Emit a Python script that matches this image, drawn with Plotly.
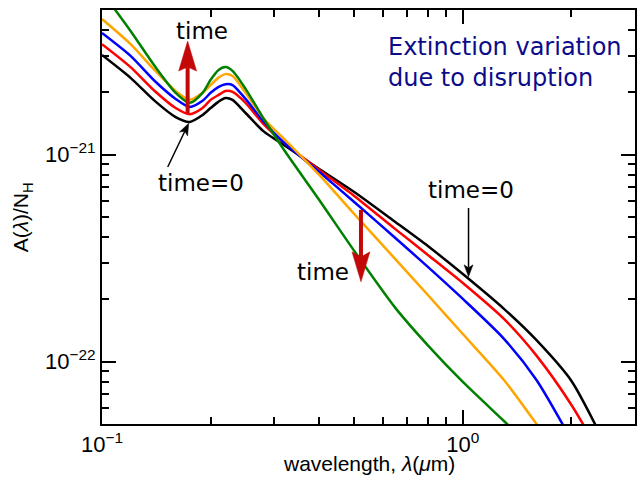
import numpy as np
import plotly.graph_objects as go

# ---------------- data ----------------
wavelength = [0.1, 0.12, 0.14, 0.16, 0.175, 0.19, 0.2, 0.21, 0.22, 0.23, 0.25,
              0.28, 0.32, 0.4, 0.5, 0.65, 0.8, 1.0, 1.3, 1.6, 2.0, 2.5]
# A(lambda)/N_H in units of 1e-22
ext_black = [30.3, 23.5, 18.2, 15.2, 14.4, 15.55, 16.8, 18.0, 18.8, 18.4, 15.9,
             13.0, 11.1, 8.53, 6.60, 4.73, 3.62, 2.65, 1.80, 1.27, 0.807, 0.387]
ext_red = [34.2, 26.5, 20.3, 16.8, 15.7, 16.8, 18.4, 19.4, 20.3, 20.1, 17.8,
           14.1, 11.4, 8.43, 6.32, 4.37, 3.28, 2.40, 1.61, 1.07, 0.618, 0.317]
ext_blue = [38.7, 30.0, 22.7, 18.6, 17.0, 18.2, 19.9, 21.2, 21.9, 21.7, 18.6,
            14.5, 11.4, 8.25, 5.91, 3.96, 2.87, 2.01, 1.29, 0.816, 0.418]
ext_orange = [45.2, 34.2, 25.6, 20.3, 18.4, 19.9, 21.7, 23.5, 24.5, 24.0, 19.9,
              15.0, 11.9, 7.98, 5.17, 3.13, 2.10, 1.36, 0.816, 0.50, 0.287]
ext_green = [61.1, 39.6, 26.8, 19.9, 17.8, 19.9, 23.0, 25.6, 26.5, 25.4, 20.8,
             15.0, 10.5, 6.04, 3.43, 1.82, 1.20, 0.798, 0.517, 0.366]
UNIT = 1e-22

series = [("black", ext_black), ("red", ext_red), ("blue", ext_blue),
          ("orange", ext_orange), ("green", ext_green)]

x_tickvals = [0.1, 1.0]
x_ticktext = ["10<sup>\u22121</sup>", "10<sup>0</sup>"]
y_tickvals = [1e-22, 1e-21]
y_ticktext = ["10<sup>\u221222</sup>", "10<sup>\u221221</sup>"]

# ---------------- layout geometry ----------------
W, H = 644, 477
ML, MR, MT, MB = 102, 7, 10, 53
PW, PH = W - ML - MR, H - MT - MB
XR = [-1.0, np.log10(3.0)]
YR = [np.log10(5e-23), np.log10(5e-21)]


def d2p(x, y):
    px = ML + (np.log10(x) - XR[0]) / (XR[1] - XR[0]) * PW
    py = MT + (YR[1] - np.log10(y)) / (YR[1] - YR[0]) * PH
    return px, py


def p2d(px, py):
    lx = XR[0] + (px - ML) / PW * (XR[1] - XR[0])
    ly = YR[1] - (py - MT) / PH * (YR[1] - YR[0])
    return 10 ** lx, 10 ** ly


fig = go.Figure()

for col, vals in series:
    fig.add_trace(go.Scatter(
        x=wavelength[:len(vals)], y=[v * UNIT for v in vals], mode="lines",
        line=dict(color=col, width=2.5, shape="spline", smoothing=0.7),
        hoverinfo="skip", showlegend=False))


def add_arrow(tail, tip, color, width, hl, hw, notch):
    tx, ty = d2p(*tail)
    hx, hy = d2p(*tip)
    ux, uy = hx - tx, hy - ty
    n = np.hypot(ux, uy)
    ux, uy = ux / n, uy / n
    vx, vy = -uy, ux
    bx, by = hx - hl * ux, hy - hl * uy
    nx, ny = hx - (hl - notch) * ux, hy - (hl - notch) * uy
    shaft = [p2d(tx, ty), p2d(nx, ny)]
    fig.add_trace(go.Scatter(x=[p[0] for p in shaft], y=[p[1] for p in shaft],
                             mode="lines", line=dict(color=color, width=width),
                             hoverinfo="skip", showlegend=False))
    poly = [(hx, hy), (bx + hw * vx, by + hw * vy), (nx, ny),
            (bx - hw * vx, by - hw * vy), (hx, hy)]
    pd = [p2d(*p) for p in poly]
    fig.add_trace(go.Scatter(x=[p[0] for p in pd], y=[p[1] for p in pd],
                             mode="lines", fill="toself", fillcolor=color,
                             line=dict(color=color, width=0.5),
                             hoverinfo="skip", showlegend=False))


RED = "rgb(195,8,8)"
add_arrow((0.1727, 1.59e-21), (0.1727, 3.54e-21), RED, 4, 30, 9, 4)
add_arrow((0.522, 5.41e-22), (0.522, 2.43e-22), RED, 4, 30, 9, 5)
add_arrow((0.1521, 8.72e-22), (0.1739, 1.42e-21), "black", 1.5, 12, 4.5, 3)
add_arrow((1.037, 5.53e-22), (1.037, 2.57e-22), "black", 1.5, 12, 4.5, 3)

TFONT = dict(family="DejaVu Sans", size=23, color="black")
texts = [
    ("time", 0.1888, 3.96e-21, "center"),
    ("time", 0.4089, 2.71e-22, "center"),
    ("time=0", 0.1877, 7.30e-22, "center"),
    ("time=0", 1.051, 6.75e-22, "center"),
]
annotations = []
for t, x, y, xa in texts:
    annotations.append(dict(text=t, x=np.log10(x), y=np.log10(y), xref="x", yref="y",
                            showarrow=False, xanchor=xa, yanchor="middle", font=TFONT))
annotations.append(dict(text="Extinction variation<br>due to disruption",
                        x=np.log10(0.612), y=np.log10(2.80e-21), xref="x", yref="y",
                        showarrow=False, xanchor="left", yanchor="middle", align="left",
                        font=dict(family="DejaVu Sans", size=24, color="#0c0c8a")))
AFONT = dict(family="Liberation Sans, Arial", size=21, color="black")
TICKFONT = dict(family="Liberation Sans, Arial", size=22, color="black")
annotations.append(dict(text="wavelength, <i>\u03bb</i>(<i>\u03bc</i>m)",
                        x=0.5, y=(MT + PH - 463) / PH, xref="paper", yref="paper",
                        showarrow=False, xanchor="center", yanchor="middle", font=AFONT))
annotations.append(dict(text="A(<i>\u03bb</i>)/N<sub>H</sub>",
                        x=(22 - ML) / PW, y=0.5, xref="paper", yref="paper", textangle=-90,
                        showarrow=False, xanchor="center", yanchor="middle", font=AFONT))

axis_common = dict(type="log", showline=True, linecolor="black", linewidth=2,
                   mirror="ticks", ticks="inside", ticklen=14, tickwidth=1.5,
                   tickcolor="black", showgrid=False, zeroline=False,
                   tickfont=TICKFONT)

fig.update_xaxes(range=XR, tickvals=x_tickvals, ticktext=x_ticktext,
                 minor=dict(ticks="inside", ticklen=7, tickwidth=1.5, tickcolor="black",
                            tickvals=[0.2, 0.3, 0.4, 0.5, 0.6, 0.7, 0.8, 0.9, 2, 3],
                            showgrid=False),
                 **axis_common)
fig.update_yaxes(range=YR, tickvals=y_tickvals, ticktext=y_ticktext,
                 minor=dict(ticks="inside", ticklen=7, tickwidth=1.5, tickcolor="black",
                            tickvals=[5e-23, 6e-23, 7e-23, 8e-23, 9e-23,
                                      2e-22, 3e-22, 4e-22, 5e-22, 6e-22, 7e-22, 8e-22, 9e-22,
                                      2e-21, 3e-21, 4e-21, 5e-21],
                            showgrid=False),
                 **axis_common)

fig.update_layout(width=W, height=H, margin=dict(l=ML, r=MR, t=MT, b=MB),
                  paper_bgcolor="white", plot_bgcolor="white",
                  showlegend=False, annotations=annotations)

fig.write_html("out.html")
